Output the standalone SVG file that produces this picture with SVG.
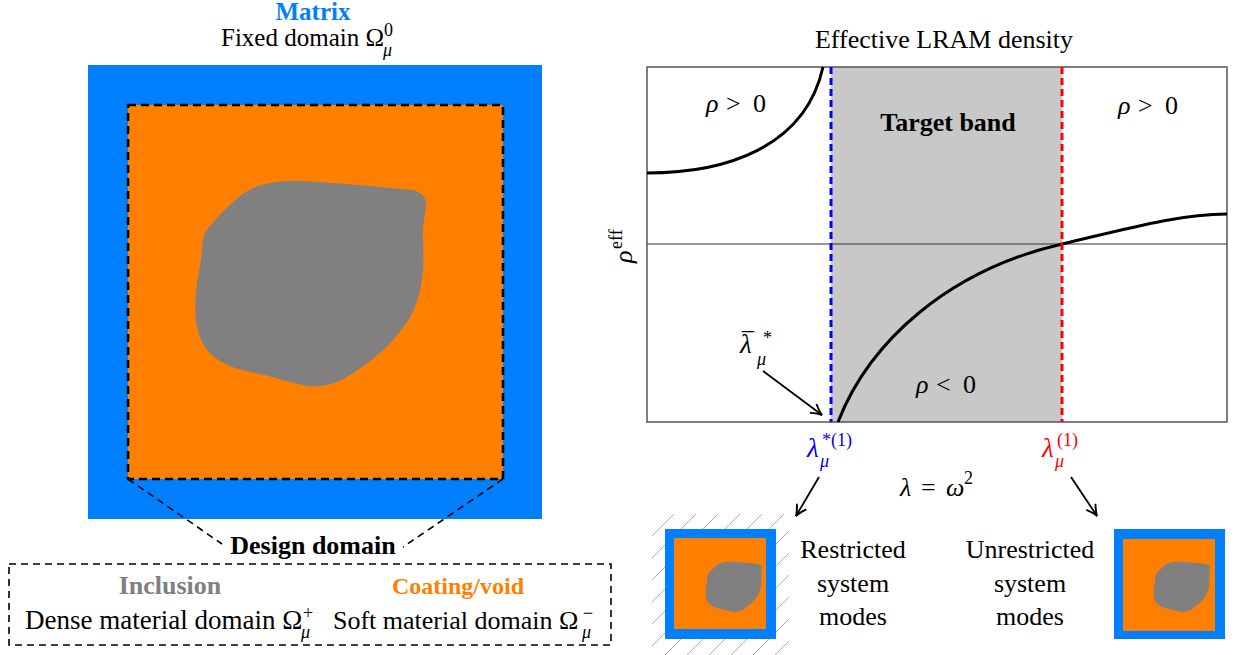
<svg xmlns="http://www.w3.org/2000/svg" xmlns:xlink="http://www.w3.org/1999/xlink" width="1237" height="655" viewBox="0 0 1237 655">
<style>
  text { font-family: "Liberation Serif", "DejaVu Serif", serif; font-size: 26px; fill: #000; }
  .b { font-weight: bold; }
  .i { font-style: italic; }
  .s { font-size: 18px; }
  .c { text-anchor: middle; }
  .blue { fill: #0080ff; }
  .orange { fill: #ff8000; }
  .gray { fill: #808080; }
  .dash { fill: none; stroke: #000; stroke-width: 1.6; stroke-dasharray: 7 5; }
  .arrow { fill: none; stroke: #000; stroke-width: 1.8; marker-end: url(#ah); }
</style>
<defs>
  <marker id="ah" viewBox="-13 -7 15 14" refX="0" refY="0" markerWidth="15" markerHeight="14" markerUnits="userSpaceOnUse" orient="auto">
    <path d="M -11,-5.5 Q -4,-1 0,0 Q -4,1 -11,5.5" fill="none" stroke="#000" stroke-width="1.9"/>
  </marker>
  <path id="blob" d="M 205,233 C 212,222 228,206 240,196 C 252,186 270,180 300,181 C 330,182 380,187 413,190 C 422,192 427,198 426,206 C 425,215 422,228 423,240 C 424,260 425,290 410,317 C 398,338 378,357 355,372 C 340,382 325,388 308,386 C 290,383 275,377 255,373 C 225,367 200,357 196,320 C 193,295 200,270 202,250 C 203,240 203,237 205,233 Z" fill="#808080"/>
  <pattern id="hatch" patternUnits="userSpaceOnUse" width="22" height="22">
    <path d="M 0,22 L 22,0 M -11,11 L 11,-11 M 11,33 L 33,11" stroke="#b0b0b0" stroke-width="1"/>
  </pattern>
</defs>

<g id="matrix-title">
  <text class="b blue c" x="313" y="20" style="font-size:25px">Matrix</text>
  <text x="221" y="46" style="font-size:25px">Fixed domain Ω</text>
  <text class="s" x="384" y="36">0</text>
  <text class="s i" x="383" y="56">μ</text>
</g>

<g id="unit-cell">
  <rect x="88" y="65" width="454" height="454" fill="#0080ff"/>
  <rect x="128" y="105" width="375" height="374" fill="#ff8000"/>
  <use xlink:href="#blob"/>
  <rect x="128" y="105" width="375" height="374" fill="none" stroke="#000" stroke-width="2.6" stroke-dasharray="8 5"/>
</g>

<g id="design-domain-label">
  <text class="b c" x="313" y="554">Design domain</text>
</g>

<g id="legend-box">
  <rect x="9" y="564" width="602" height="81" class="dash"/>
  <text class="b gray c" x="170" y="594">Inclusion</text>
  <text class="b orange c" x="458" y="594" style="font-size:24px">Coating/void</text>
  <text x="25" y="629" style="font-size:27px">Dense material domain Ω</text>
  <text class="s" x="303" y="619">+</text>
  <text class="s i" x="301" y="638">μ</text>
  <text x="333" y="629">Soft material domain Ω</text>
  <text class="s" x="583" y="619">−</text>
  <text class="s i" x="582" y="638">μ</text>
</g>

<g id="plot">
  <text class="c" x="944" y="48">Effective LRAM density</text>
  <rect x="831" y="67" width="231" height="355" fill="#c8c8c8"/>
  <line x1="647" y1="244" x2="1227" y2="244" stroke="#333" stroke-width="1.2"/>
  <rect x="647" y="67" width="580" height="355" fill="none" stroke="#555" stroke-width="1.5"/>
  <path d="M 647,173 C 725,173 805,148 823,67" fill="none" stroke="#000" stroke-width="3"/>
  <path d="M 838,422 C 870,340 950,270 1062,244 C 1130,228 1180,214 1227,214" fill="none" stroke="#000" stroke-width="3"/>
  <line x1="831" y1="67" x2="831" y2="422" stroke="#0000ff" stroke-width="3" stroke-dasharray="7 4"/>
  <line x1="1062" y1="67" x2="1062" y2="422" stroke="#ff0000" stroke-width="3" stroke-dasharray="7 4"/>
  <text y="112"><tspan class="i" x="706">ρ</tspan><tspan x="726">&gt;</tspan><tspan x="753">0</tspan></text>
  <text y="114"><tspan class="i" x="1118">ρ</tspan><tspan x="1138">&gt;</tspan><tspan x="1165">0</tspan></text>
  <text class="b c" x="948" y="131">Target band</text>
  <text y="393"><tspan class="i" x="916">ρ</tspan><tspan x="936">&lt;</tspan><tspan x="963">0</tspan></text>
  <g transform="translate(632,263) rotate(-90)">
    <text class="i" x="0" y="0">ρ</text>
    <text class="s" x="14" y="-10">eff</text>
  </g>
</g>

<g id="label-lambda-bar">
  <text class="i" x="740" y="353" style="font-size:27px">λ</text>
  <text x="742" y="349" style="font-size:24px">¯</text>
  <text class="s" x="763" y="344">*</text>
  <text class="s i" x="757" y="365">μ</text>
</g>

<g id="label-lambda-star">
  <text class="i" x="807" y="457" style="fill:#0000ff;font-size:27px">λ</text>
  <text class="s" x="822" y="446" style="fill:#0000ff">*(1)</text>
  <text class="s i" x="820" y="467" style="fill:#0000ff">μ</text>
</g>

<g id="label-lambda-one">
  <text class="i" x="1042" y="457" style="fill:#ff0000;font-size:27px">λ</text>
  <text class="s" x="1057" y="446" style="fill:#ff0000">(1)</text>
  <text class="s i" x="1055" y="467" style="fill:#ff0000">μ</text>
</g>

<g id="axis-label">
  <text y="496"><tspan class="i" x="900">λ</tspan><tspan x="921">=</tspan><tspan class="i" x="946">ω</tspan></text>
  <text class="s" x="964" y="484">2</text>
</g>

<g id="restricted">
  <rect x="652" y="514" width="137" height="141" fill="url(#hatch)"/>
  <rect x="665" y="529" width="111" height="110" fill="#0080ff"/>
  <rect x="674" y="538" width="92" height="91" fill="#ff8000"/>
  <use xlink:href="#blob" transform="translate(657.7,517.4) scale(0.245)"/>
  <text class="c" x="853" y="558">Restricted</text>
  <text class="c" x="853" y="592">system</text>
  <text class="c" x="853" y="625">modes</text>
</g>

<g id="unrestricted">
  <rect x="1114" y="529" width="111" height="110" fill="#0080ff"/>
  <rect x="1123" y="539" width="92" height="92" fill="#ff8000"/>
  <use xlink:href="#blob" transform="translate(1105.7,517.4) scale(0.245)"/>
  <text class="c" x="1030" y="558">Unrestricted</text>
  <text class="c" x="1030" y="592">system</text>
  <text class="c" x="1030" y="625">modes</text>
</g>

<g id="connectors">
  <line x1="128" y1="479" x2="222" y2="544" class="dash"/>
  <line x1="503" y1="479" x2="403" y2="547" class="dash"/>
  <line x1="763" y1="371" x2="822" y2="415" class="arrow"/>
  <line x1="819" y1="477" x2="796" y2="516" class="arrow"/>
  <line x1="1071" y1="477" x2="1097" y2="516" class="arrow"/>
</g>
</svg>
